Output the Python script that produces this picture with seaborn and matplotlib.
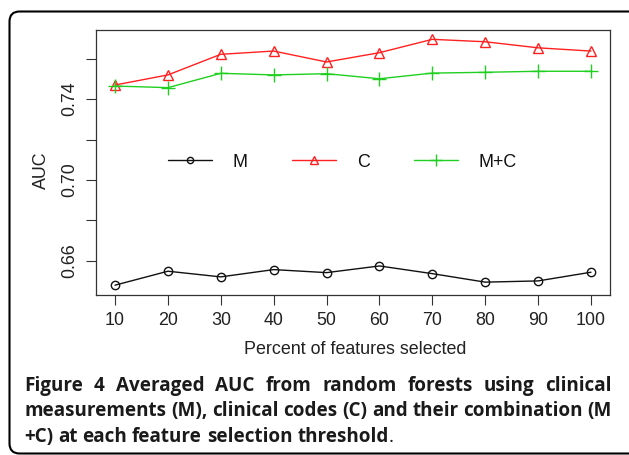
import matplotlib
matplotlib.use("Agg")
import matplotlib.pyplot as plt
from matplotlib.patches import FancyBboxPatch
from matplotlib.lines import Line2D
import seaborn as sns
import numpy as np
import pandas as pd

# ---- data ----
percent = [10, 20, 30, 40, 50, 60, 70, 80, 90, 100]
auc_m = [0.6480, 0.6549, 0.6521, 0.6557, 0.6542, 0.6575, 0.6537, 0.6495, 0.6501, 0.6544]
auc_c = [0.7470, 0.7520, 0.7622, 0.7638, 0.7584, 0.7630, 0.7696, 0.7684, 0.7654, 0.7638]
auc_mc = [0.7465, 0.7457, 0.7528, 0.7520, 0.7526, 0.7501, 0.7529, 0.7533, 0.7538, 0.7538]
series_names = ["M", "C", "M+C"]
y_ticks = [0.66, 0.68, 0.70, 0.72, 0.74, 0.76]
y_ticklabels = ["0.66", "", "0.70", "", "0.74", ""]
x_label = "Percent of features selected"
y_label = "AUC"
caption_lines = [
    "Figure 4 Averaged AUC from random forests using clinical",
    "measurements (M), clinical codes (C) and their combination (M",
    "+C) at each feature selection threshold",
]

sns.set_theme(style="white")
plt.rcParams["font.family"] = ["Liberation Sans", "DejaVu Sans"]

W, H = 629, 455
fig = plt.figure(figsize=(W / 100, H / 100), dpi=100)

# outer rounded frame
frame = FancyBboxPatch((9.5 / W, 1 - 453.5 / H), (640 - 9.5) / W, (453.5 - 11.5) / H,
                       boxstyle="round,pad=0,rounding_size=0.016",
                       transform=fig.transFigure, fill=False, ec="black", lw=1.5,
                       mutation_aspect=W / H, clip_on=False)
fig.patches.append(frame)

L, R, T, B = 96, 610, 29.5, 295
ax = fig.add_axes([L / W, 1 - B / H, (R - L) / W, (B - T) / H])

colors = {"M": "#111111", "C": "#FF2020", "M+C": "#20D020"}
markers = {"M": "o", "C": "^", "M+C": "+"}
msize = {"M": 6, "C": 7, "M+C": 10}
vals = {"M": auc_m, "C": auc_c, "M+C": auc_mc}
for name in series_names:
    kw = dict(marker=markers[name], markersize=msize[name], markeredgewidth=1.0, linewidth=1.0)
    if name != "M+C":
        kw["markerfacecolor"] = "none"
    sns.lineplot(x=percent, y=vals[name], color=colors[name], ax=ax, legend=False,
                 markeredgecolor=colors[name], **kw)

# R-style 4% axis extension
xr = max(percent) - min(percent)
ax.set_xlim(min(percent) - 0.04 * xr, max(percent) + 0.04 * xr)
allv = auc_m + auc_c + auc_mc
yr = max(allv) - min(allv)
ax.set_ylim(min(allv) - 0.04 * yr, max(allv) + 0.04 * yr)

ax.set_xticks(percent)
ax.set_xticklabels([str(p) for p in percent])
ax.set_yticks(y_ticks)
ax.set_yticklabels(y_ticklabels, rotation=90, va="center")
ax.tick_params(axis="both", direction="out", length=7, width=0.8, color="#333333",
               labelsize=12.9, labelcolor="#222222", pad=6, bottom=True, left=True)
ax.tick_params(axis="x", pad=5)
for s in ax.spines.values():
    s.set_visible(True)
    s.set_color("#333333")
    s.set_linewidth(0.9)

ax.set_xlabel(x_label, fontsize=12.9, color="#222222")
ax.set_ylabel(y_label, fontsize=12.9, color="#222222")
ax.xaxis.set_label_coords((355 - L) / (R - L), -(341 - B) / (B - T))
ax.yaxis.set_label_coords(-(L - 50) / (R - L), (B - 170) / (B - T))

handles = []
for name in series_names:
    kw = dict(marker=markers[name], markersize=msize[name] - 1.5,
              markeredgewidth=1.0, linewidth=1.0, color=colors[name])
    if name != "M+C":
        kw["markerfacecolor"] = "none"
    handles.append(Line2D([], [], **kw))
fs_px = 12.9 / 0.72
leg = fig.legend(handles, series_names, loc="center left",
                 bbox_to_anchor=(168 / W, 1 - 162 / H), ncol=3, frameon=False,
                 fontsize=12.9, handlelength=44 / fs_px, handletextpad=21 / fs_px,
                 columnspacing=44 / fs_px, borderpad=0, borderaxespad=0, markerscale=1)
for t in leg.get_texts():
    t.set_color("#111111")

# caption with justification
cap_font = dict(family=["Open Sans", "DejaVu Sans"], fontsize=13.6, color="#1a1a1a")
WEIGHT = "bold"
renderer = fig.canvas.get_renderer()
x0, x1 = 24, 612
ys = [386, 411, 437]

def word_w(w, weight):
    t = fig.text(0, 0, w, fontweight=weight, **cap_font)
    bb = t.get_window_extent(renderer)
    t.remove()
    return bb.width

for i, line in enumerate(caption_lines):
    words = line.split(" ")
    widths = [word_w(w, WEIGHT) for w in words]
    y = 1 - ys[i] / H
    if i < len(caption_lines) - 1:
        gap = (x1 - x0 - sum(widths)) / (len(words) - 1)
    else:
        gap = word_w("a b", WEIGHT) - word_w("ab", WEIGHT)
    x = x0
    for w, wd in zip(words, widths):
        fig.text(x / W, y, w, fontweight=WEIGHT, va="center", ha="left", **cap_font)
        x += wd + gap
    if i == len(caption_lines) - 1:
        fig.text((x - gap) / W, y, ".", fontweight="normal", va="center", ha="left", **cap_font)

fig.savefig("out.png", dpi=100)
